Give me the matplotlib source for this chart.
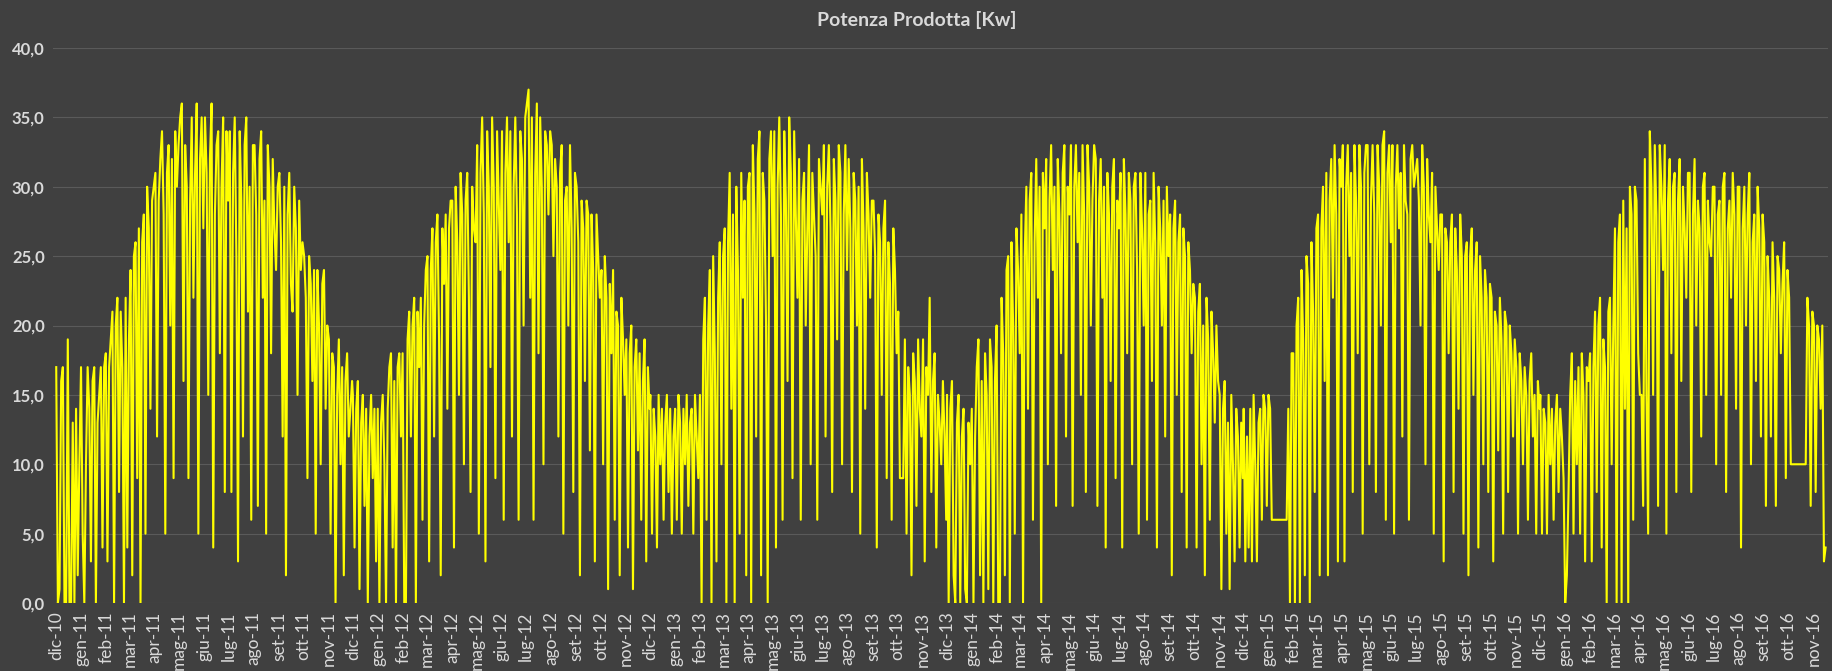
import matplotlib
matplotlib.use("Agg")
import matplotlib.pyplot as plt
import numpy as np
import pandas as pd

# daily production, one value every ~2 days, one row per month
# season Dec 2010 - Nov 2011
s2011 = [
    17, 0, 1, 16, 17, 0, 0, 19, 0, 0, 13, 0, 14, 2, 10,
    17, 5, 0, 10, 17, 14, 3, 16, 17, 0, 13, 15, 17, 4, 17,
    18, 3, 17, 19, 21, 0, 20, 22, 8, 21, 17, 0, 22, 4, 19,
    24, 2, 25, 26, 9, 27, 0, 26, 28, 5, 30, 27, 14, 29, 30,
    31, 12, 29, 32, 34, 28, 5, 31, 33, 20, 32, 9, 34, 30, 33,
    35, 36, 16, 33, 30, 9, 29, 35, 22, 31, 36, 5, 32, 35, 27,
    35, 31, 15, 32, 36, 4, 28, 33, 34, 18, 30, 35, 8, 34, 29,
    34, 8, 31, 35, 25, 3, 34, 29, 12, 33, 35, 21, 30, 6, 33,
    33, 28, 7, 32, 34, 22, 29, 5, 33, 30, 18, 32, 27, 24, 30,
    31, 26, 12, 30, 2, 28, 31, 23, 21, 30, 27, 15, 29, 24, 26,
    25, 22, 9, 25, 23, 16, 24, 5, 24, 20, 10, 23, 24, 14, 20,
    19, 5, 18, 17, 0, 15, 19, 10, 17, 2, 16, 18, 12, 14, 16,
]
# season Dec 2011 - Nov 2012
s2012 = [
    15, 4, 14, 16, 1, 13, 15, 7, 14, 0, 12, 15, 9, 14, 3,
    14, 0, 13, 15, 10, 0, 14, 17, 18, 4, 16, 0, 17, 18, 12,
    18, 0, 0, 19, 21, 12, 20, 22, 0, 21, 17, 22, 6, 20, 24,
    25, 3, 24, 27, 12, 26, 28, 19, 2, 27, 23, 28, 14, 27, 29,
    29, 4, 30, 26, 15, 31, 28, 10, 29, 31, 22, 8, 30, 27, 26,
    33, 5, 31, 35, 28, 3, 34, 30, 17, 35, 30, 9, 34, 29, 24,
    34, 6, 31, 35, 26, 34, 12, 30, 35, 28, 6, 34, 32, 20, 35,
    36, 37, 22, 35, 6, 31, 36, 18, 35, 30, 10, 34, 33, 28, 34,
    33, 25, 32, 30, 12, 31, 33, 5, 29, 30, 20, 33, 27, 8, 31,
    30, 26, 2, 29, 27, 16, 29, 28, 11, 28, 24, 3, 28, 25, 22,
    24, 10, 25, 22, 1, 23, 18, 24, 6, 21, 20, 2, 22, 19, 15,
    19, 4, 18, 20, 1, 17, 19, 11, 18, 6, 16, 19, 3, 17, 14,
]
# season Dec 2012 - Nov 2013
s2013 = [
    15, 5, 14, 12, 4, 15, 10, 14, 6, 13, 15, 8, 14, 5, 12,
    14, 6, 15, 13, 5, 14, 10, 15, 7, 13, 14, 5, 15, 12, 9,
    15, 0, 19, 22, 6, 20, 24, 0, 25, 18, 3, 22, 26, 10, 25,
    27, 0, 26, 31, 14, 28, 0, 30, 24, 5, 31, 22, 29, 2, 30,
    31, 0, 33, 28, 12, 32, 34, 2, 31, 29, 20, 0, 32, 34, 25,
    34, 4, 30, 35, 28, 6, 34, 29, 16, 35, 31, 9, 34, 28, 22,
    32, 6, 29, 31, 20, 27, 33, 10, 31, 28, 25, 6, 32, 30, 28,
    33, 12, 30, 33, 27, 8, 32, 29, 19, 33, 31, 10, 28, 33, 24,
    32, 27, 8, 31, 29, 20, 30, 5, 32, 27, 14, 31, 28, 22, 29,
    29, 25, 4, 28, 26, 15, 27, 29, 9, 26, 23, 6, 27, 24, 18,
    21, 9, 9, 9, 19, 5, 17, 15, 2, 18, 16, 7, 19, 14, 12,
    19, 3, 17, 15, 22, 8, 16, 18, 4, 15, 13, 10, 16, 12, 6,
]
# season Dec 2013 - Nov 2014
s2014 = [
    15, 0, 14, 16, 2, 0, 13, 15, 0, 12, 14, 1, 0, 13, 10,
    14, 0, 12, 17, 19, 2, 16, 0, 18, 15, 1, 19, 17, 0, 16,
    20, 0, 0, 22, 18, 2, 24, 25, 0, 26, 20, 5, 27, 24, 18,
    28, 0, 25, 30, 14, 29, 31, 6, 26, 32, 22, 30, 0, 31, 27,
    32, 10, 29, 33, 24, 30, 7, 32, 28, 18, 31, 33, 12, 30, 28,
    33, 7, 30, 33, 26, 31, 15, 33, 28, 8, 33, 30, 20, 29, 33,
    32, 7, 29, 32, 22, 30, 4, 31, 28, 16, 30, 32, 9, 29, 27,
    31, 4, 32, 28, 18, 31, 29, 10, 30, 31, 24, 5, 31, 27, 20,
    31, 6, 28, 29, 16, 31, 26, 4, 30, 27, 20, 29, 12, 30, 25,
    28, 2, 27, 29, 15, 26, 28, 8, 27, 25, 4, 26, 24, 18, 23,
    22, 4, 21, 23, 10, 20, 2, 22, 19, 6, 21, 18, 13, 20, 16,
    15, 1, 14, 16, 5, 13, 1, 15, 10, 3, 14, 12, 4, 13, 9,
]
# season Dec 2014 - Nov 2015
s2015 = [
    14, 3, 12, 4, 14, 3, 15, 10, 3, 13, 14, 6, 15, 14, 7,
    15, 14, 6, 6, 6, 6, 6, 6, 6, 6, 6, 6, 14, 0, 18,
    18, 0, 20, 22, 0, 24, 19, 2, 25, 23, 0, 26, 21, 8, 27,
    28, 2, 27, 30, 16, 31, 2, 29, 32, 22, 33, 28, 3, 32, 30,
    33, 3, 30, 33, 25, 31, 8, 33, 29, 18, 33, 30, 5, 31, 33,
    33, 10, 29, 33, 28, 8, 33, 30, 20, 33, 34, 6, 31, 33, 26,
    33, 5, 30, 33, 27, 31, 12, 33, 29, 28, 6, 32, 33, 30, 31,
    32, 29, 20, 33, 30, 10, 32, 28, 26, 31, 5, 30, 27, 24, 28,
    28, 3, 27, 26, 18, 26, 28, 8, 27, 24, 14, 28, 25, 5, 25,
    26, 2, 25, 27, 15, 24, 26, 4, 25, 22, 10, 24, 22, 8, 23,
    22, 3, 21, 20, 11, 22, 19, 5, 21, 20, 8, 20, 18, 12, 19,
    17, 5, 18, 16, 10, 17, 15, 6, 16, 18, 12, 15, 5, 16, 14,
]
# season Dec 2015 - mid Nov 2016
s2016 = [
    15, 5, 14, 13, 5, 15, 10, 14, 6, 13, 15, 8, 14, 12, 9,
    0, 2, 8, 15, 18, 5, 16, 10, 17, 5, 18, 15, 3, 17, 16,
    18, 3, 17, 21, 8, 20, 22, 4, 19, 17, 0, 21, 22, 10, 20,
    27, 0, 26, 28, 0, 29, 14, 27, 0, 30, 28, 6, 30, 29, 18,
    15, 15, 7, 32, 15, 5, 34, 30, 15, 33, 28, 7, 33, 30, 24,
    33, 5, 29, 32, 18, 30, 31, 8, 29, 32, 16, 30, 27, 22, 31,
    31, 8, 28, 32, 20, 29, 27, 12, 30, 31, 15, 29, 26, 25, 30,
    30, 10, 28, 29, 15, 30, 31, 8, 27, 29, 22, 31, 28, 14, 30,
    30, 4, 27, 30, 20, 28, 31, 10, 26, 28, 16, 30, 27, 12, 28,
    26, 7, 25, 22, 12, 26, 22, 7, 25, 24, 18, 23, 26, 9, 24,
    22, 10, 10, 10, 10, 10, 10, 10, 10, 10, 10, 22, 20, 7, 21,
    20, 8, 20, 19, 14, 20, 3, 4,
]

seasons = [
    ("2010-12-01", "2011-11-30", s2011),
    ("2011-12-01", "2012-11-30", s2012),
    ("2012-12-01", "2013-11-30", s2013),
    ("2013-12-01", "2014-11-30", s2014),
    ("2014-12-01", "2015-11-30", s2015),
    ("2015-12-01", "2016-11-16", s2016),
]

mesi = ["gen", "feb", "mar", "apr", "mag", "giu",
        "lug", "ago", "set", "ott", "nov", "dic"]

BG = "#404040"
TXT = "#d9d9d9"
GRID = "#5a5a5a"

dates = []
values = []
for start, end, vals in seasons:
    dates.extend(pd.date_range(start, end, periods=len(vals)))
    values.extend(vals)
dates = pd.DatetimeIndex(dates)
values = np.array(values, dtype=float)

fig = plt.figure(figsize=(18.33, 6.71), dpi=100, facecolor=BG)
ax = fig.add_axes([0.0289, 0.1013, 0.9684, 0.8272], facecolor=BG)

ax.plot(dates, values, color="#ffff00", lw=1.5)

ax.set_ylim(0, 40)
ax.set_yticks(np.arange(0, 41, 5))
ax.set_yticklabels([f"{v:.1f}".replace(".", ",") for v in np.arange(0, 41, 5)],
                   fontsize=12, fontweight="bold", color=TXT, family="Lato")
ax.yaxis.grid(True, color=GRID, lw=0.8)
ax.set_axisbelow(True)

ticks = pd.date_range("2010-12-01", "2016-11-01", freq="MS")
ax.set_xticks(ticks)
ax.set_xticklabels([f"{mesi[t.month - 1]}-{t.year % 100:02d}" for t in ticks],
                   rotation=90, fontsize=12.5, color=TXT, family="Lato")
ax.set_xlim(pd.Timestamp("2010-11-27"), pd.Timestamp("2016-11-19"))

ax.tick_params(axis="both", length=0, pad=6)
for s in ax.spines.values():
    s.set_visible(False)

fig.text(0.5, 0.970, "Potenza Prodotta [Kw]", ha="center", va="center",
         fontsize=14, fontweight="bold", color=TXT, family="Lato")

fig.savefig("out.png", dpi=100, facecolor=BG)
